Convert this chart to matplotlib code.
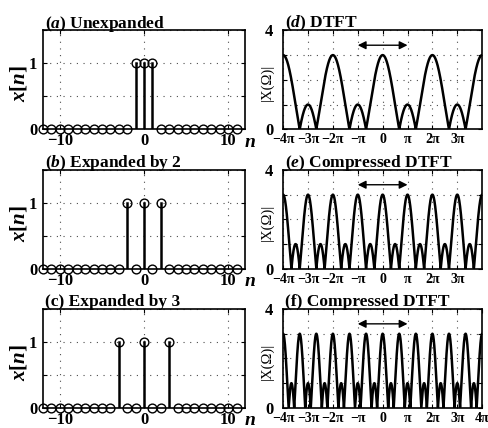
import numpy as np
import matplotlib
matplotlib.use("Agg")
import matplotlib.pyplot as plt

plt.rcParams["font.family"] = ["Liberation Serif", "DejaVu Serif"]
plt.rcParams["font.weight"] = "bold"
plt.rcParams["mathtext.fontset"] = "custom"
plt.rcParams["mathtext.rm"] = "Liberation Serif:bold"
plt.rcParams["mathtext.it"] = "Liberation Serif:italic:bold"
plt.rcParams["mathtext.bf"] = "Liberation Serif:bold"

# sample index and the three signals (original, expanded by 2, by 3)
n = np.arange(-12, 12)
pulse_a = [-1, 0, 1]
pulse_b = [-2, 0, 2]
pulse_c = [-3, 0, 3]
stem_titles = [r"($\mathit{a}$) Unexpanded", r"($\mathit{b}$) Expanded by 2",
               "(c) Expanded by 3"]

# DTFT |1 + 2 cos(k*W)| with compression factor k
compress = [1, 2, 3]
dtft_titles = [r"($\mathit{d}$) DTFT", r"($\mathit{e}$) Compressed DTFT",
               "(f) Compressed DTFT"]
pi_ticks = [-4, -3, -2, -1, 0, 1, 2, 3]
pi_labels = ["−4π", "−3π", "−2π", "−π", "0", "π", "2π", "3π"]
pi_ticks_f = [-4, -3, -2, -1, 0, 1, 2, 3, 4]
pi_labels_f = ["−4π", "−3π", "−2π", "−π", "0", "π", "2π", "3π", "4π"]

fig = plt.figure(figsize=(4.89, 4.28), dpi=100)

bottoms = [0.698, 0.372, 0.047]
height = 0.231


def style_box(ax, ypad):
    ax.tick_params(direction="in", top=True, right=True, length=3,
                   labelsize=12)
    ax.tick_params(axis="x", pad=3)
    ax.tick_params(axis="y", pad=ypad)
    for s in ax.spines.values():
        s.set_linewidth(1.2)
    ax.grid(True, linestyle=(0, (1, 5)), color="0.3", linewidth=0.8)


for i, pulses in enumerate([pulse_a, pulse_b, pulse_c]):
    ax = fig.add_axes([0.088, bottoms[i], 0.413, height])
    x = np.zeros(len(n))
    for p in pulses:
        x[n == p] = 1
    for k, v in zip(n, x):
        if v > 0:
            ax.plot([k, k], [0, v], color="black", lw=1.8, zorder=3)
    ax.plot(n, x, "o", mfc="none", mec="black", ms=6.3, mew=1.0,
            zorder=4, clip_on=False)
    ax.set_xlim(-12, 12)
    ax.set_ylim(0, 1.5)
    ax.set_xticks([-10, 0, 10])
    ax.set_yticks([0, 0.5, 1, 1.5])
    ax.set_yticklabels(["0", "", "1", ""])
    style_box(ax, 4)
    ax.set_ylabel(r"$x[n]$", fontsize=15)
    ax.yaxis.set_label_coords(-0.068, 0.46)
    ax.text(0.995, -0.13, r"$n$", transform=ax.transAxes, fontsize=14,
            ha="left", va="center")
    ax.set_title(stem_titles[i], fontsize=12.5, loc="left", x=0.01, pad=2,
                 fontweight="bold")

w = np.linspace(-4 * np.pi, 4 * np.pi, 4000)
for i, k in enumerate(compress):
    ax = fig.add_axes([0.579, bottoms[i], 0.407, height])
    ax.plot(w, np.abs(1 + 2 * np.cos(k * w)), color="black", lw=1.8)
    ax.set_xlim(-4 * np.pi, 4 * np.pi)
    ax.set_ylim(0, 4)
    if i == 2:
        ax.set_xticks(np.array(pi_ticks_f) * np.pi)
        ax.set_xticklabels(pi_labels_f)
    else:
        ax.set_xticks(np.array(pi_ticks) * np.pi)
        ax.set_xticklabels(pi_labels)
    ax.set_yticks([0, 1, 2, 3, 4])
    ax.set_yticklabels(["0", "", "", "", "4"])
    style_box(ax, 7)
    ax.tick_params(axis="x", labelsize=10)
    ax.set_ylabel("|X(Ω)|", fontsize=10.5)
    ax.yaxis.set_label_coords(-0.045, 0.47)
    ax.annotate("", xy=(np.pi, 3.4), xytext=(-np.pi, 3.4),
                arrowprops=dict(arrowstyle="<|-|>", color="black", lw=1.0,
                                mutation_scale=12, shrinkA=0, shrinkB=0))
    ax.set_title(dtft_titles[i], fontsize=12.5, loc="left", x=0.01, pad=2,
                 fontweight="bold")

fig.savefig("out.png", dpi=100)
